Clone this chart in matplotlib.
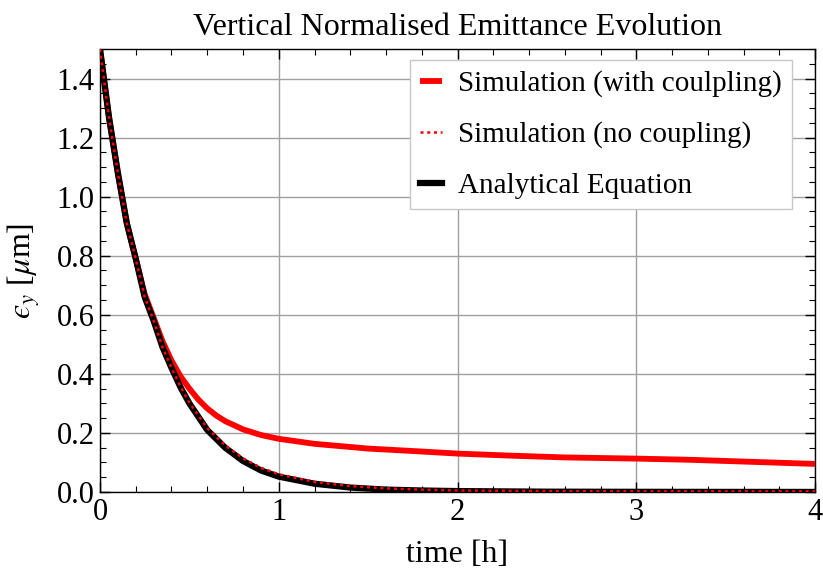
import numpy as np
import matplotlib.pyplot as plt
from matplotlib.ticker import MultipleLocator

# waktu (jam) dan emitansi vertikal (um)
t_anal = [0, 0.05, 0.1, 0.15, 0.2, 0.25, 0.3, 0.35, 0.4, 0.45, 0.5, 0.6, 0.7, 0.8,
          0.9, 1.0, 1.2, 1.4, 1.6, 1.8, 2.0, 2.5, 3.0, 3.5, 4.0]
eps_anal = [1.5, 1.27, 1.08, 0.91, 0.79, 0.66, 0.58, 0.49, 0.42, 0.355, 0.30, 0.21,
            0.15, 0.105, 0.073, 0.052, 0.028, 0.015, 0.008, 0.005, 0.003, 0.001,
            0.0005, 0.0002, 0.0001]

t_nocoup = [0, 0.05, 0.1, 0.15, 0.2, 0.25, 0.3, 0.35, 0.4, 0.45, 0.5, 0.6, 0.7, 0.8,
            0.9, 1.0, 1.2, 1.4, 1.6, 1.8, 2.0, 2.5, 3.0, 3.5, 4.0]
eps_nocoup = [1.5, 1.27, 1.08, 0.91, 0.79, 0.66, 0.58, 0.49, 0.42, 0.357, 0.303, 0.216,
              0.158, 0.114, 0.082, 0.060, 0.034, 0.020, 0.012, 0.008, 0.005, 0.003,
              0.002, 0.002, 0.002]

t_coup = [0, 0.05, 0.1, 0.15, 0.2, 0.25, 0.3, 0.35, 0.4, 0.45, 0.5, 0.55, 0.6, 0.65,
          0.7, 0.8, 0.9, 1.0, 1.2, 1.5, 1.8, 2.0, 2.3, 2.6, 3.0, 3.3, 3.6, 4.0]
eps_coup = [1.5, 1.27, 1.08, 0.91, 0.79, 0.67, 0.59, 0.51, 0.445, 0.392, 0.35, 0.313,
            0.283, 0.259, 0.24, 0.212, 0.193, 0.18, 0.163, 0.147, 0.137, 0.130, 0.123,
            0.117, 0.113, 0.109, 0.103, 0.095]

plt.rcParams['font.family'] = ['Liberation Serif', 'DejaVu Serif']
plt.rcParams['mathtext.fontset'] = 'stix'

fig = plt.figure(figsize=(8.23, 5.73), dpi=100)
ax = fig.add_axes([0.1215, 0.1414, 0.8688, 0.7731])

ax.plot(t_coup, eps_coup, color='#ff0000', lw=4.2, label='Simulation (with coulpling)',
        solid_capstyle='butt', solid_joinstyle='round', zorder=3)
ax.plot(t_anal, eps_anal, color='black', lw=4.5, label='Analytical Equation',
        solid_joinstyle='round', zorder=4)
ax.plot(t_nocoup, eps_nocoup, color='#ff0000', lw=1.8, ls=(0, (1.2, 1.5)),
        label='Simulation (no coupling)', zorder=5)

ax.set_xlim(0, 4)
ax.set_ylim(0, 1.5)
ax.xaxis.set_major_locator(MultipleLocator(1))
ax.xaxis.set_minor_locator(MultipleLocator(0.2))
ax.yaxis.set_major_locator(MultipleLocator(0.2))
ax.yaxis.set_minor_locator(MultipleLocator(0.05))
ax.yaxis.set_major_formatter(plt.FormatStrFormatter('%.1f'))
ax.tick_params(which='both', direction='in', top=True, right=True, labelsize=22)
ax.tick_params(which='major', length=7, width=1, pad=4)
ax.tick_params(which='minor', length=4, width=0.8)
ax.grid(True, which='major', color='#a0a0a0', lw=1)
for s in ax.spines.values():
    s.set_linewidth(1)

ax.set_title('Vertical Normalised Emittance Evolution', fontsize=23, pad=10)
ax.set_xlabel('time [h]', fontsize=23, labelpad=10)
ax.set_ylabel('$ϵ_y$ [$\\mu$m]', fontsize=23, labelpad=10)

h, l = ax.get_legend_handles_labels()
order = [0, 2, 1]
leg = ax.legend([h[i] for i in order], [l[i] for i in order], loc='upper right',
                bbox_to_anchor=(0.968, 0.975), borderaxespad=0, fontsize=21,
                fancybox=False, edgecolor='#c8c8c8', framealpha=1, handlelength=0.75,
                handletextpad=0.55, labelspacing=0.83, borderpad=0.35)
leg.get_frame().set_linewidth(1)

fig.savefig('out.png', dpi=100)
